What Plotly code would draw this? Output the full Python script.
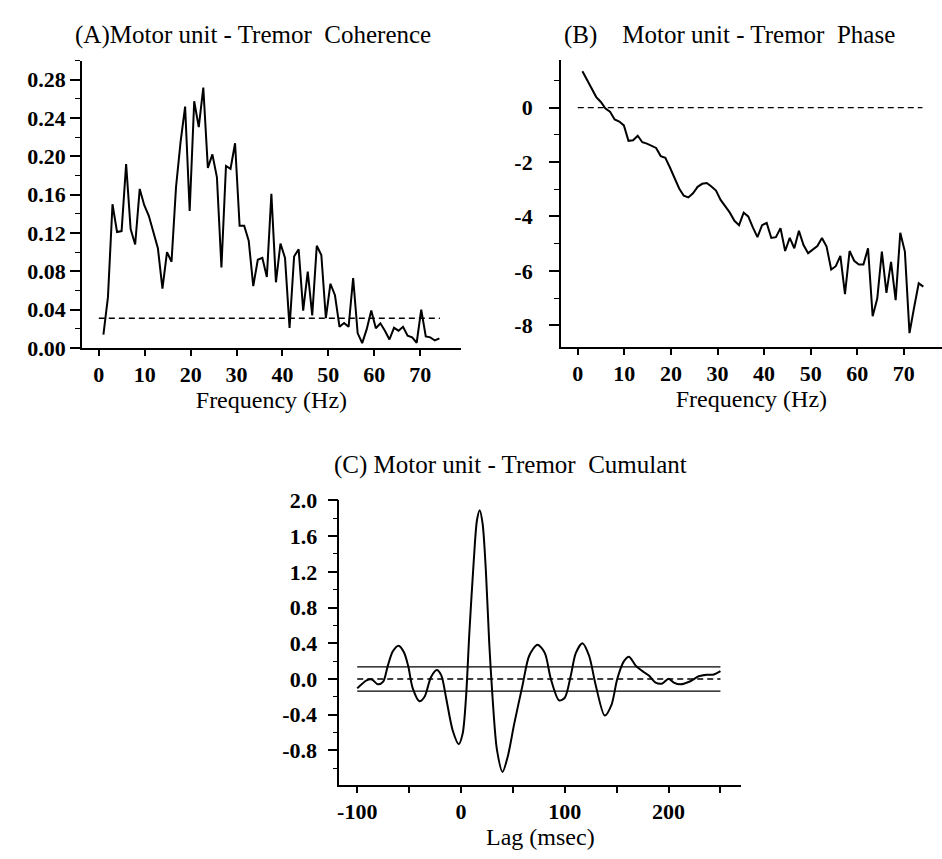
import plotly.graph_objects as go

# ---------------- data ----------------
freq_hz = [1.0, 1.99, 2.98, 3.97, 4.96, 5.95, 6.93, 7.92, 8.91, 9.9, 10.89, 11.88, 12.87, 13.86,
           14.85, 15.84, 16.82, 17.81, 18.8, 19.79, 20.78, 21.77, 22.76, 23.75, 24.74, 25.73,
           26.71, 27.7, 28.69, 29.68, 30.67, 31.66, 32.65, 33.64, 34.63, 35.62, 36.6, 37.59,
           38.58, 39.57, 40.56, 41.55, 42.54, 43.53, 44.52, 45.51, 46.49, 47.48, 48.47, 49.46,
           50.45, 51.44, 52.43, 53.42, 54.41, 55.4, 56.38, 57.37, 58.36, 59.35, 60.34, 61.33,
           62.32, 63.31, 64.3, 65.29, 66.27, 67.26, 68.25, 69.24, 70.23, 71.22, 72.21, 73.2, 74.19]

coherence = [0.0139, 0.053, 0.150, 0.121, 0.122, 0.192, 0.124, 0.108, 0.166, 0.149, 0.138, 0.122,
             0.104, 0.062, 0.100, 0.090, 0.168, 0.215, 0.252, 0.143, 0.2575, 0.2305, 0.2717, 0.188,
             0.202, 0.178, 0.084, 0.190, 0.187, 0.2137, 0.1276, 0.1276, 0.112, 0.0645, 0.092, 0.094,
             0.074, 0.161, 0.0685, 0.109, 0.094, 0.021, 0.0955, 0.103, 0.039, 0.0797, 0.034, 0.1067,
             0.097, 0.031, 0.067, 0.055, 0.022, 0.026, 0.022, 0.073, 0.0155, 0.005, 0.0196, 0.039,
             0.0206, 0.0257, 0.018, 0.0088, 0.021, 0.018, 0.022, 0.0128, 0.011, 0.0054, 0.040, 0.012,
             0.011, 0.0078, 0.010]
coh_conf_level = 0.031
coh_conf_x = [0, 74.3]

phase = [1.34, 1.02, 0.69, 0.39, 0.21, -0.03, -0.15, -0.43, -0.51, -0.65, -1.22, -1.20, -1.03,
         -1.27, -1.32, -1.39, -1.48, -1.78, -1.84, -2.20, -2.58, -2.97, -3.24, -3.30, -3.15, -2.91,
         -2.80, -2.77, -2.90, -3.05, -3.39, -3.62, -3.86, -4.16, -4.32, -3.86, -4.00, -4.40, -4.76,
         -4.32, -4.24, -4.79, -4.76, -4.43, -5.27, -4.79, -5.17, -4.53, -5.05, -5.35, -5.23, -5.09,
         -4.79, -5.11, -5.95, -5.83, -5.45, -6.86, -5.27, -5.63, -5.77, -5.77, -5.17, -7.67, -7.02,
         -5.29, -6.81, -5.67, -7.08, -4.60, -5.29, -8.29, -7.35, -6.46, -6.58]
phase_ref_x = [0, 74]
phase_ref_level = 0.0

lag_ms = [-100, -91, -86, -80, -75, -70.5, -65.7, -60.2, -55, -51, -46.5, -40, -35, -29, -23.4,
          -19, -14.4, -8, -2.2, 1.6, 4.8, 8, 12.2, 15.4, 18, 20.8, 24, 27.2, 30.4, 34.6, 40, 45,
          51.3, 59.3, 65.7, 73.7, 80.8, 86.5, 94.5, 100, 105.8, 110.6, 117, 123.4, 129.8, 138.5,
          145, 150.6, 157, 161.9, 168.3, 176.3, 181, 187.5, 194, 200, 205, 211.5, 221, 229, 237,
          243.6, 250]
cumulant = [-0.105, -0.015, -0.005, -0.06, -0.03, 0.15, 0.31, 0.373, 0.30, 0.15, -0.105, -0.25,
            -0.196, 0.02, 0.10, 0.04, -0.21, -0.576, -0.73, -0.61, -0.21, 0.51, 1.31, 1.78, 1.89,
            1.74, 1.20, 0.40, -0.21, -0.79, -1.04, -0.87, -0.50, -0.07, 0.26, 0.384, 0.29, 0.003,
            -0.24, -0.21, 0.04, 0.29, 0.40, 0.26, -0.07, -0.41, -0.29, 0.003, 0.20, 0.25, 0.15,
            0.076, 0.04, -0.04, -0.05, 0.003, -0.04, -0.06, -0.025, 0.03, 0.047, 0.05, 0.087]
cum_conf_x = [-100, 250]
cum_conf_upper = 0.135
cum_conf_lower = -0.135
cum_zero = 0.0

# tick labels (hyphen minus as in the original)
a_yticks = [0.00, 0.04, 0.08, 0.12, 0.16, 0.20, 0.24, 0.28]
a_ytext = ["0.00", "0.04", "0.08", "0.12", "0.16", "0.20", "0.24", "0.28"]
freq_ticks = [0, 10, 20, 30, 40, 50, 60, 70]
freq_text = ["0", "10", "20", "30", "40", "50", "60", "70"]
b_yticks = [0, -2, -4, -6, -8]
b_ytext = ["0", "-2", "-4", "-6", "-8"]
c_yticks = [2.0, 1.6, 1.2, 0.8, 0.4, 0.0, -0.4, -0.8]
c_ytext = ["2.0", "1.6", "1.2", "0.8", "0.4", "0.0", "-0.4", "-0.8"]
c_xticks = [-100, 0, 100, 200]
c_xtext = ["-100", "0", "100", "200"]

# ---------------- figure ----------------
W, H = 942, 859
SERIF = "Liberation Serif, Times New Roman, serif"
BLACK = "black"

fig = go.Figure()

line_main = dict(color=BLACK, width=2)
dash_line = dict(color=BLACK, width=1.3, dash="6px,4px")

# Panel A
fig.add_trace(go.Scatter(x=freq_hz, y=coherence, mode="lines", line=line_main,
                         xaxis="x", yaxis="y", showlegend=False))
fig.add_trace(go.Scatter(x=coh_conf_x, y=[coh_conf_level] * len(coh_conf_x), mode="lines",
                         line=dash_line, xaxis="x", yaxis="y", showlegend=False))
# Panel B
fig.add_trace(go.Scatter(x=freq_hz, y=phase, mode="lines", line=line_main,
                         xaxis="x2", yaxis="y2", showlegend=False))
fig.add_trace(go.Scatter(x=phase_ref_x, y=[phase_ref_level] * len(phase_ref_x), mode="lines",
                         line=dash_line, xaxis="x2", yaxis="y2", showlegend=False))
# Panel C
fig.add_trace(go.Scatter(x=cum_conf_x, y=[cum_conf_upper] * 2, mode="lines",
                         line=dict(color=BLACK, width=1.2), xaxis="x3", yaxis="y3", showlegend=False))
fig.add_trace(go.Scatter(x=cum_conf_x, y=[cum_conf_lower] * 2, mode="lines",
                         line=dict(color=BLACK, width=1.2), xaxis="x3", yaxis="y3", showlegend=False))
fig.add_trace(go.Scatter(x=cum_conf_x, y=[cum_zero] * 2, mode="lines",
                         line=dash_line, xaxis="x3", yaxis="y3", showlegend=False))
fig.add_trace(go.Scatter(x=lag_ms, y=cumulant, mode="lines",
                         line=dict(color=BLACK, width=2, shape="spline", smoothing=0.8),
                         xaxis="x3", yaxis="y3", showlegend=False))

tickfont = dict(family=SERIF, size=22, color=BLACK, weight="bold")
titlefont = dict(family=SERIF, size=24, color=BLACK)


def xaxis(domain, rng, tv, tt, anchor, title, minor=None):
    d = dict(domain=domain, range=rng, anchor=anchor, showline=True, linecolor=BLACK,
             linewidth=1.5, ticks="outside", ticklen=6, tickwidth=1.5, tickcolor=BLACK,
             tickmode="array", tickvals=tv, ticktext=tt, showgrid=False, zeroline=False,
             tickfont=tickfont, title=dict(text=title, font=titlefont, standoff=0),
             fixedrange=True)
    if minor:
        d["minor"] = minor
    return d


def yaxis(domain, rng, tv, tt, anchor, minor, standoff=0):
    return dict(domain=domain, range=rng, anchor=anchor, showline=True, linecolor=BLACK,
                linewidth=1.5, ticks="outside", ticklen=10, tickwidth=1.5, tickcolor=BLACK,
                tickmode="array", tickvals=tv, ticktext=tt, showgrid=False, zeroline=False,
                tickfont=tickfont, minor=minor, ticklabelstandoff=standoff, fixedrange=True)


def px_x(p):
    return p / W


def px_y(p):
    return 1 - p / H


minor_style = dict(ticks="outside", ticklen=5, tickwidth=1.2, tickcolor=BLACK, showgrid=False)

fig.update_layout(
    width=W, height=H,
    margin=dict(l=0, r=0, t=0, b=0),
    paper_bgcolor="white", plot_bgcolor="white",
    font=dict(family=SERIF, color=BLACK),
    xaxis=xaxis([px_x(80), px_x(460)], [-3.7, 78.9], freq_ticks, freq_text, "y", "Frequency (Hz)"),
    yaxis=yaxis([px_y(346), px_y(50)], [0, 0.30], a_yticks, a_ytext, "x",
                dict(tick0=0, dtick=0.02, **minor_style)),
    xaxis2=xaxis([px_x(560), px_x(942)], [-3.64, 78.2], freq_ticks, freq_text, "y2", "Frequency (Hz)"),
    yaxis2=yaxis([px_y(345), px_y(49)], [-8.8, 1.77], b_yticks, b_ytext, "x2",
                 dict(tick0=0, dtick=1, **minor_style), standoff=12),
    xaxis3=xaxis([px_x(338), px_x(741)], [-117.3, 270.2], c_xticks, c_xtext, "y3", "Lag (msec)",
                 minor=dict(tick0=0, dtick=50, ticks="outside", ticklen=6, tickwidth=1.5,
                            tickcolor=BLACK, showgrid=False)),
    yaxis3=yaxis([px_y(796), px_y(503)], [-1.185, 2.0], c_yticks, c_ytext, "x3",
                 dict(tick0=0, dtick=0.2, **minor_style), standoff=6),
    annotations=[
        dict(text="(A)Motor unit - Tremor\u00a0\u00a0Coherence", x=px_x(252), y=px_y(24),
             xref="paper", yref="paper", xanchor="center", yanchor="middle", showarrow=False,
             font=dict(family=SERIF, size=25, color=BLACK)),
        dict(text="(B)\u00a0\u00a0\u00a0\u00a0Motor unit - Tremor\u00a0\u00a0Phase", x=px_x(729), y=px_y(24),
             xref="paper", yref="paper", xanchor="center", yanchor="middle", showarrow=False,
             font=dict(family=SERIF, size=25, color=BLACK)),
        dict(text="(C) Motor unit - Tremor\u00a0\u00a0Cumulant", x=px_x(510), y=px_y(467),
             xref="paper", yref="paper", xanchor="center", yanchor="middle", showarrow=False,
             font=dict(family=SERIF, size=25, color=BLACK)),
    ],
)

fig.write_html("out.html")
